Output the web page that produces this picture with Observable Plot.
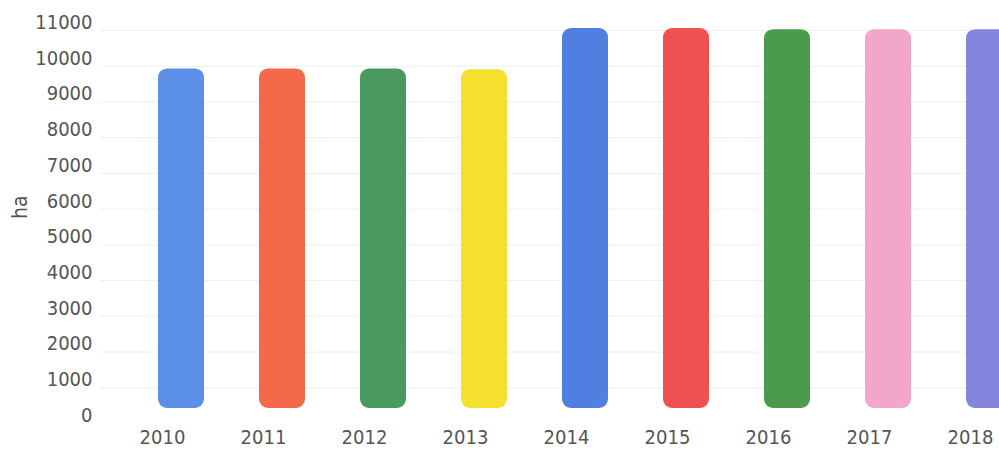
<!DOCTYPE html>
<html>
<head>
<meta charset="utf-8">
<script src="https://cdn.jsdelivr.net/npm/d3@7"></script>
<script src="https://cdn.jsdelivr.net/npm/@observablehq/plot@0.6"></script>
<style>
  html, body { margin: 0; padding: 0; background: #fff; overflow: hidden; }
  #chart svg { display: block; }
  #chart svg text { font-stretch: condensed; }
</style>
</head>
<body>
<div id="chart"></div>
<script>
const years = ["2010","2011","2012","2013","2014","2015","2016","2017","2018"];
const values = [9700, 9700, 9700, 9680, 10830, 10830, 10800, 10800, 10800];
const barColors = ["#5b8fe8","#f4694a","#4a9a60","#f5e030","#4f7fe0","#f05050","#4c9a4c","#f2a6cc","#8585dd"];
const yTicks = [0,1000,2000,3000,4000,5000,6000,7000,8000,9000,10000,11000];
const yLabel = "ha";

const data = years.map((y, i) => ({year: y, value: values[i]}));
const font = "'Liberation Sans Narrow', 'Arial Narrow', 'DejaVu Sans Condensed', 'DejaVu Sans', sans-serif";

const chart = Plot.plot({
  width: 999,
  height: 453,
  marginLeft: 100,
  marginRight: 0,
  marginTop: 22,
  marginBottom: 38,
  style: { fontFamily: font, background: "#fff", overflow: "hidden" },
  x: { domain: years, range: [107.3, 1062.8], paddingInner: 0.54, paddingOuter: 0.5 },
  y: { domain: [0, 11000] },
  color: { domain: years, range: barColors },
  marks: [
    Plot.gridY(yTicks.slice(1), { stroke: "#efefef", strokeOpacity: 1, strokeWidth: 1, dy: 8 }),
    Plot.barY(data, { x: "year", y: "value", fill: "year", rx: 9, insetBottom: 7 }),
    Plot.axisY({ ticks: yTicks, tickSize: 0, tickPadding: 8, tickFormat: d3.format("d"),
      fontSize: 20, fill: "#555", label: null }),
    Plot.axisX({ tickSize: 0, tickPadding: 14, dx: -19, fontSize: 20, fill: "#555", label: null }),
    Plot.text([yLabel], { frameAnchor: "left", rotate: -90, dx: -80, fontSize: 21, fill: "#555" })
  ]
});
document.getElementById("chart").appendChild(chart);
</script>
</body>
</html>
